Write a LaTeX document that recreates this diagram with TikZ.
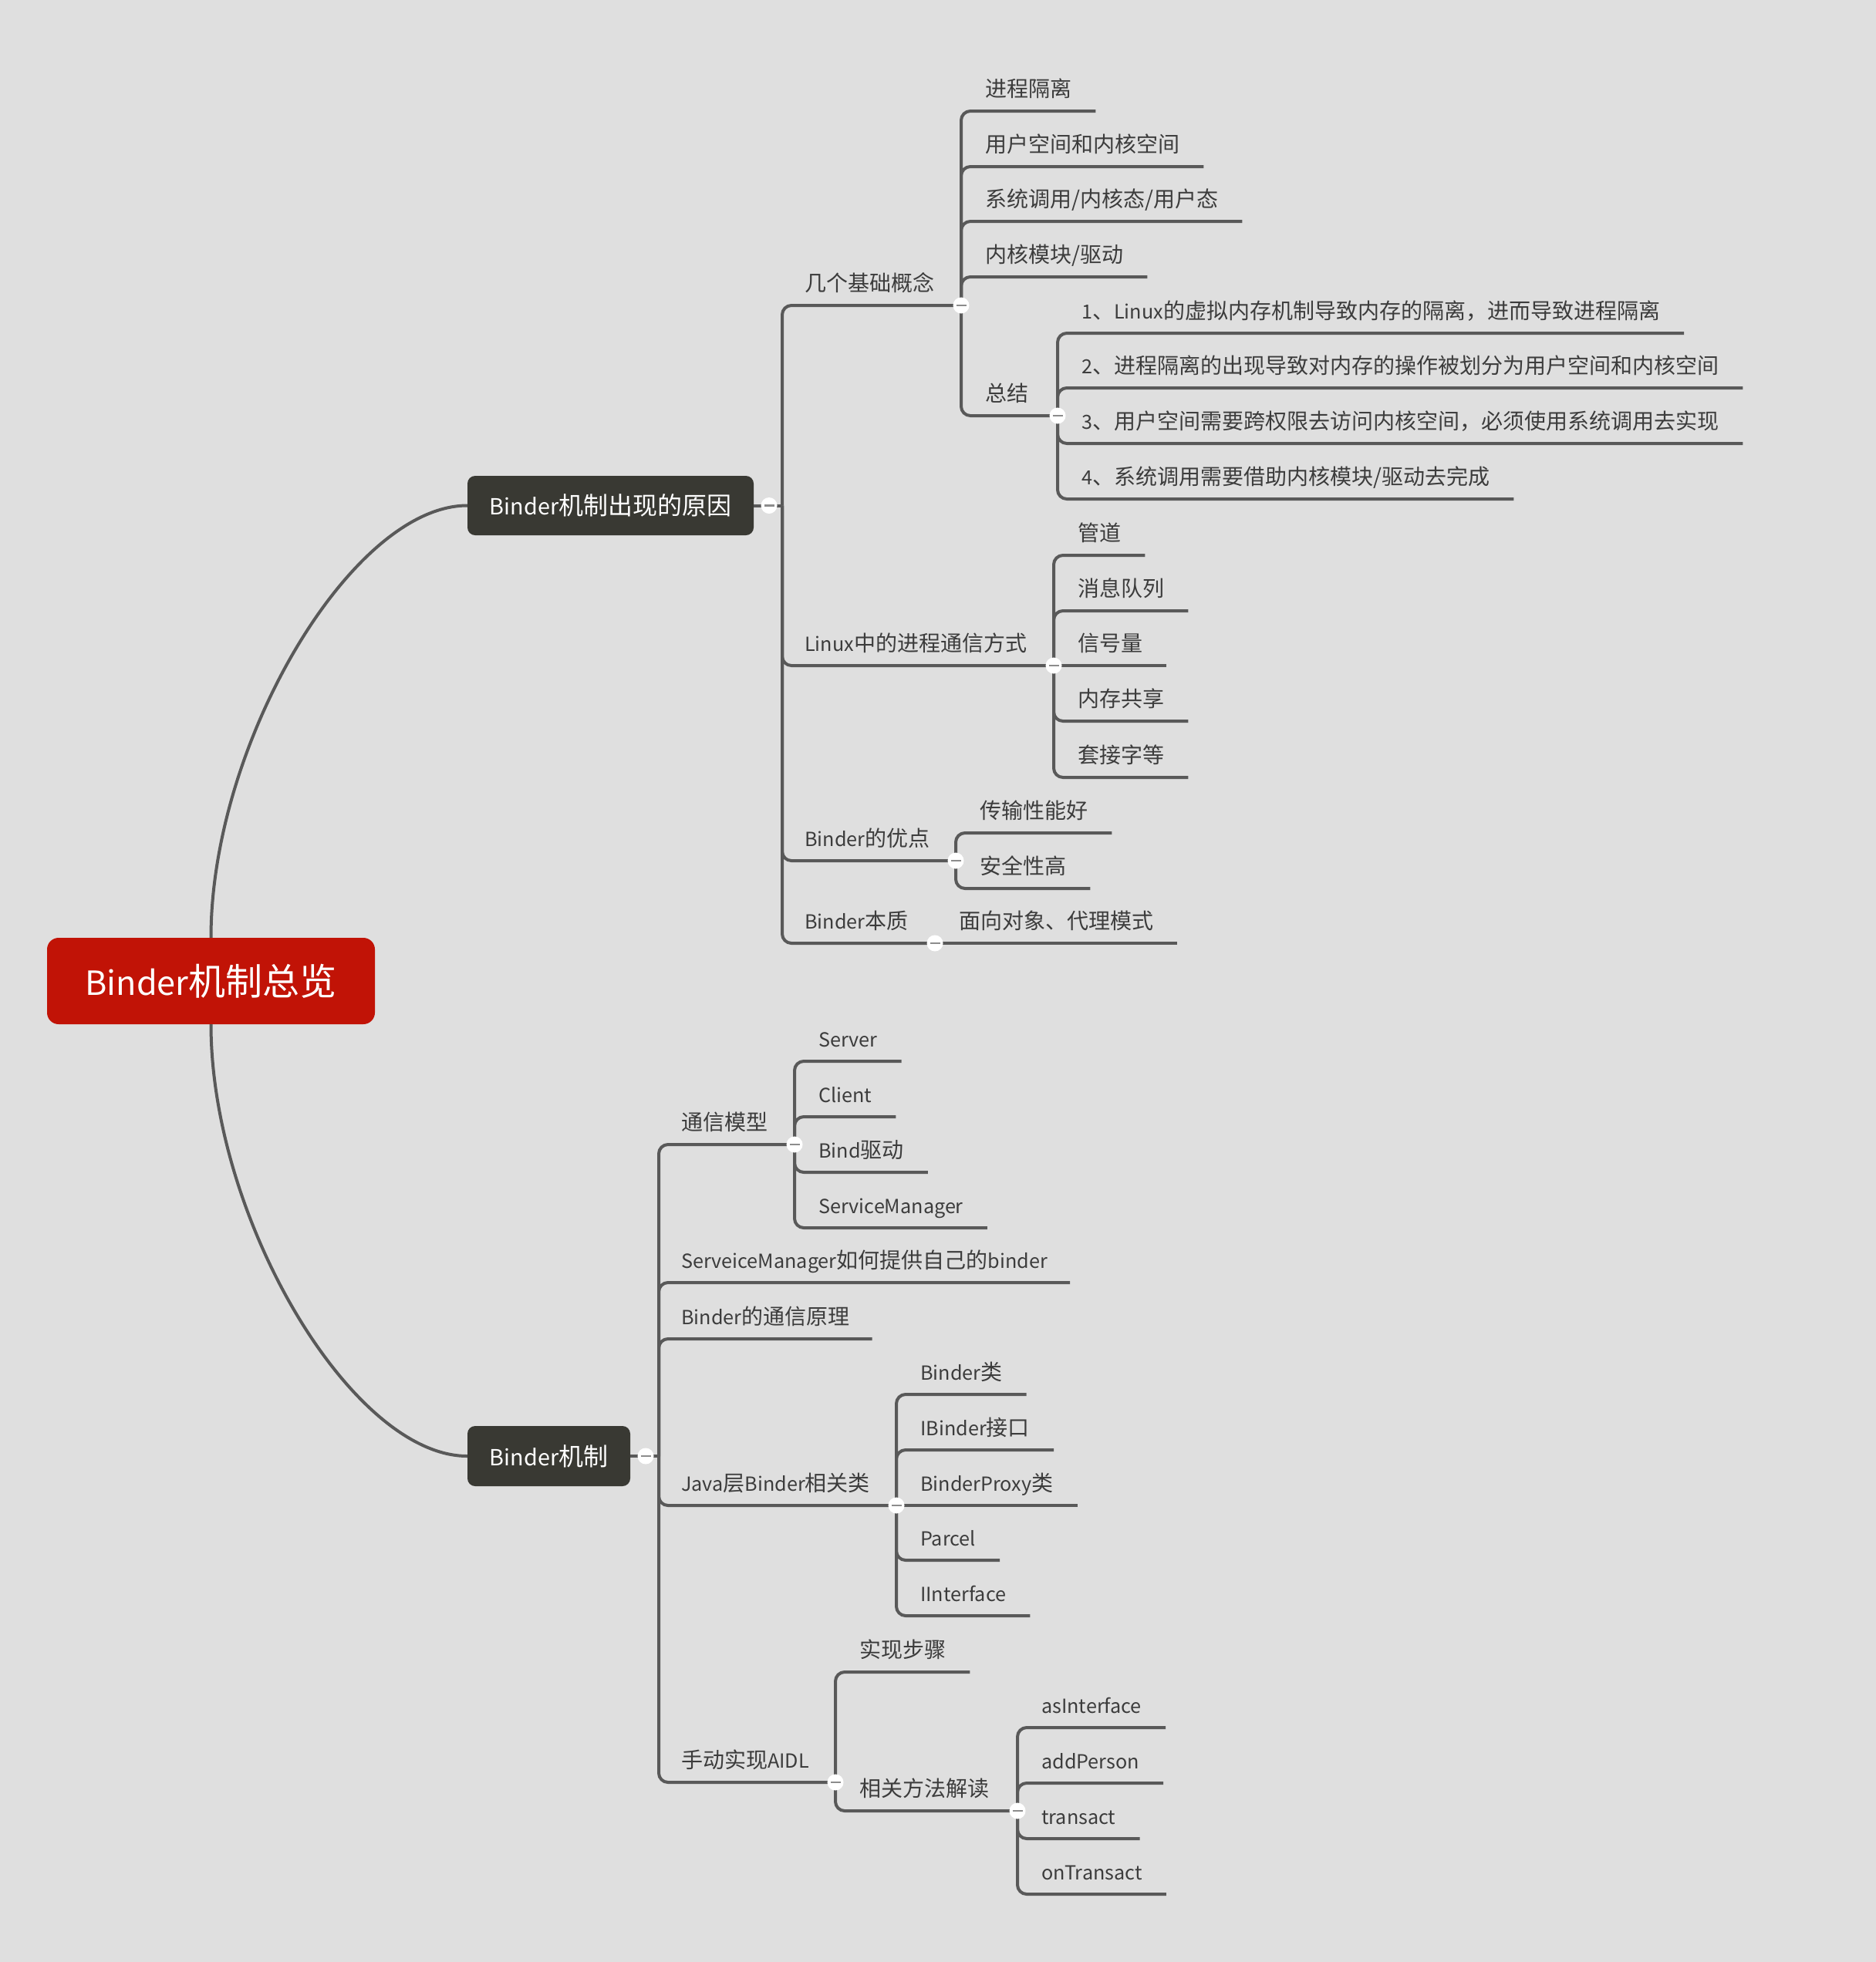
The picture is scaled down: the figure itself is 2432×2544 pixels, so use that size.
\documentclass[tikz,border=0pt]{standalone}
\usepackage{fontspec}
\setmainfont{Noto Sans CJK SC}
\newfontfamily\latinpart[Scale=0.9]{Noto Sans CJK SC}
\newcommand\ltn[1]{{\latinpart #1}}
\definecolor{bgcol}{HTML}{DFDFDF}
\definecolor{linecol}{HTML}{595959}
\definecolor{txtcol}{HTML}{3C3C3C}
\definecolor{darkbox}{HTML}{393933}
\definecolor{rootred}{HTML}{C11306}
\definecolor{foldgray}{HTML}{8C8C8C}
\newcommand\leaffont{\fontsize{28}{34}\selectfont}
\newcommand\headfont{\fontsize{32}{38}\selectfont}
\newcommand\rootfont{\fontsize{48}{56}\selectfont}
\newcommand\foldmark{\textcolor{foldgray}{\rule[-1.4pt]{13pt}{2.8pt}}}
\tikzset{
  conn/.style={draw=linecol, line width=4pt, rounded corners=12pt},
  curveline/.style={draw=linecol, line width=4pt},
  topic/.style={anchor=south west, inner xsep=31pt, inner ysep=0pt,
    text height=24pt, text depth=18pt, font=\leaffont, text=txtcol},
  firsttopic/.style={topic, inner xsep=29pt},
  fold/.style={circle, fill=white, inner sep=0pt, minimum size=21pt},
  mainbox/.style={fill=darkbox, text=white, rounded corners=10pt,
    font=\headfont, inner sep=0pt},
  rootbox/.style={fill=rootred, text=white, rounded corners=15pt,
    font=\rootfont, inner sep=0pt},
}
\begin{document}
\begin{tikzpicture}[x=1pt,y=-1pt]
\useasboundingbox (0,0) rectangle (2432,2544);
\fill[bgcol] (0,0) rectangle (2432,2544);

% central topic and the two main branches
\node[rootbox, minimum width=425pt, minimum height=112pt] (root) at (273.5,1272) {\ltn{Binder}机制总览};
\node[mainbox, minimum width=371pt, minimum height=77pt] (A) at (791.5,655.5) {\ltn{Binder}机制出现的原因};
\node[mainbox, minimum width=211pt, minimum height=78pt] (B) at (711.5,1888) {\ltn{Binder}机制};

% junctions and fold points
\coordinate (jA) at (1014,655.5);
\coordinate (jB) at (854,1888);
\coordinate (cA) at (997,655.5);
\coordinate (cB) at (837,1888);
\coordinate (c1) at (1246,396);
\coordinate (c15) at (1371,539);
\coordinate (c2) at (1366,863);
\coordinate (c3) at (1239,1116);
\coordinate (c4) at (1212,1223);
\coordinate (c5) at (1030,1484);
\coordinate (c6) at (1162,1952);
\coordinate (c7) at (1083,2311);
\coordinate (c8) at (1319,2348);

% ---- Binder机制出现的原因
\node[firsttopic] (a1) at (1014,396) {几个基础概念};
\node[firsttopic] (a2) at (1014,863) {\ltn{Linux}中的进程通信方式};
\node[firsttopic] (a3) at (1014,1116) {\ltn{Binder}的优点};
\node[firsttopic] (a4) at (1014,1223) {\ltn{Binder}本质};

\node[topic] (a11) at (1246,144) {进程隔离};
\node[topic] (a12) at (1246,216) {用户空间和内核空间};
\node[topic] (a13) at (1246,287) {系统调用/内核态/用户态};
\node[topic] (a14) at (1246,359) {内核模块/驱动};
\node[topic] (a15) at (1246,539) {总结};

\node[topic] (a151) at (1371,432) {\ltn{1}、\ltn{Linux}的虚拟内存机制导致内存的隔离，进而导致进程隔离};
\node[topic] (a152) at (1371,503) {\ltn{2}、进程隔离的出现导致对内存的操作被划分为用户空间和内核空间};
\node[topic] (a153) at (1371,575) {\ltn{3}、用户空间需要跨权限去访问内核空间，必须使用系统调用去实现};
\node[topic] (a154) at (1371,647) {\ltn{4}、系统调用需要借助内核模块/驱动去完成};

\node[topic] (a21) at (1366,720) {管道};
\node[topic] (a22) at (1366,792) {消息队列};
\node[topic] (a23) at (1366,863) {信号量};
\node[topic] (a24) at (1366,935) {内存共享};
\node[topic] (a25) at (1366,1008) {套接字等};

\node[topic] (a31) at (1239,1080) {传输性能好};
\node[topic] (a32) at (1239,1152) {安全性高};

\node[topic] (a41) at (1212,1223) {面向对象、代理模式};

% ---- Binder机制
\node[firsttopic] (b1) at (854,1484) {通信模型};
\node[firsttopic] (b2) at (854,1663) {\ltn{ServeiceManager}如何提供自己的\ltn{binder}};
\node[firsttopic] (b3) at (854,1736) {\ltn{Binder}的通信原理};
\node[firsttopic] (b4) at (854,1952) {\ltn{Java}层\ltn{Binder}相关类};
\node[firsttopic] (b5) at (854,2311) {手动实现\ltn{AIDL}};

\node[topic] (b11) at (1030,1376) {\ltn{Server}};
\node[topic] (b12) at (1030,1448) {\ltn{Client}};
\node[topic] (b13) at (1030,1520) {\ltn{Bind}驱动};
\node[topic] (b14) at (1030,1592) {\ltn{ServiceManager}};

\node[topic] (b41) at (1162,1808) {\ltn{Binder}类};
\node[topic] (b42) at (1162,1880) {\ltn{IBinder}接口};
\node[topic] (b43) at (1162,1952) {\ltn{BinderProxy}类};
\node[topic] (b44) at (1162,2023) {\ltn{Parcel}};
\node[topic] (b45) at (1162,2095) {\ltn{IInterface}};

\node[topic] (b51) at (1083,2168) {实现步骤};
\node[topic] (b52) at (1083,2348) {相关方法解读};

\node[topic] (b521) at (1319,2240) {\ltn{asInterface}};
\node[topic] (b522) at (1319,2312) {\ltn{addPerson}};
\node[topic] (b523) at (1319,2384) {\ltn{transact}};
\node[topic] (b524) at (1319,2456) {\ltn{onTransact}};

% curved links from the central topic
\draw[curveline] (root.north) .. controls (273.5,964) and (456,655.5) .. (A.west);
\draw[curveline] (root.south) .. controls (273.5,1580) and (456,1888) .. (B.west);

% connectors of the first branch
\draw[conn] (A.east) -- (jA);
\draw[conn] (jA) |- (c1);
\draw[conn] (jA) |- (c2);
\draw[conn] (jA) |- (c3);
\draw[conn] (jA) |- (c4);
\foreach \n in {a11,a12,a13,a14} \draw[conn] (c1) |- (\n.south east);
\draw[conn] (c1) |- (c15);
\foreach \n in {a151,a152,a153,a154} \draw[conn] (c15) |- (\n.south east);
\foreach \n in {a21,a22,a24,a25} \draw[conn] (c2) |- (\n.south east);
\draw[conn] (c2) -- (a23.south east);
\foreach \n in {a31,a32} \draw[conn] (c3) |- (\n.south east);
\draw[conn] (c4) -- (a41.south east);

% connectors of the second branch
\draw[conn] (B.east) -- (jB);
\draw[conn] (jB) |- (c5);
\draw[conn] (jB) |- (b2.south east);
\draw[conn] (jB) |- (b3.south east);
\draw[conn] (jB) |- (c6);
\draw[conn] (jB) |- (c7);
\foreach \n in {b11,b12,b13,b14} \draw[conn] (c5) |- (\n.south east);
\foreach \n in {b41,b42,b44,b45} \draw[conn] (c6) |- (\n.south east);
\draw[conn] (c6) -- (b43.south east);
\draw[conn] (c7) |- (b51.south east);
\draw[conn] (c7) |- (c8);
\foreach \n in {b521,b522,b523,b524} \draw[conn] (c8) |- (\n.south east);

% fold markers
\node[fold] (fA) at (cA) {\foldmark};
\node[fold] (fB) at (cB) {\foldmark};
\node[fold] (f1) at (c1) {\foldmark};
\node[fold] (f15) at (c15) {\foldmark};
\node[fold] (f2) at (c2) {\foldmark};
\node[fold] (f3) at (c3) {\foldmark};
\node[fold] (f4) at (c4) {\foldmark};
\node[fold] (f5) at (c5) {\foldmark};
\node[fold] (f6) at (c6) {\foldmark};
\node[fold] (f7) at (c7) {\foldmark};
\node[fold] (f8) at (c8) {\foldmark};
\end{tikzpicture}
\end{document}
